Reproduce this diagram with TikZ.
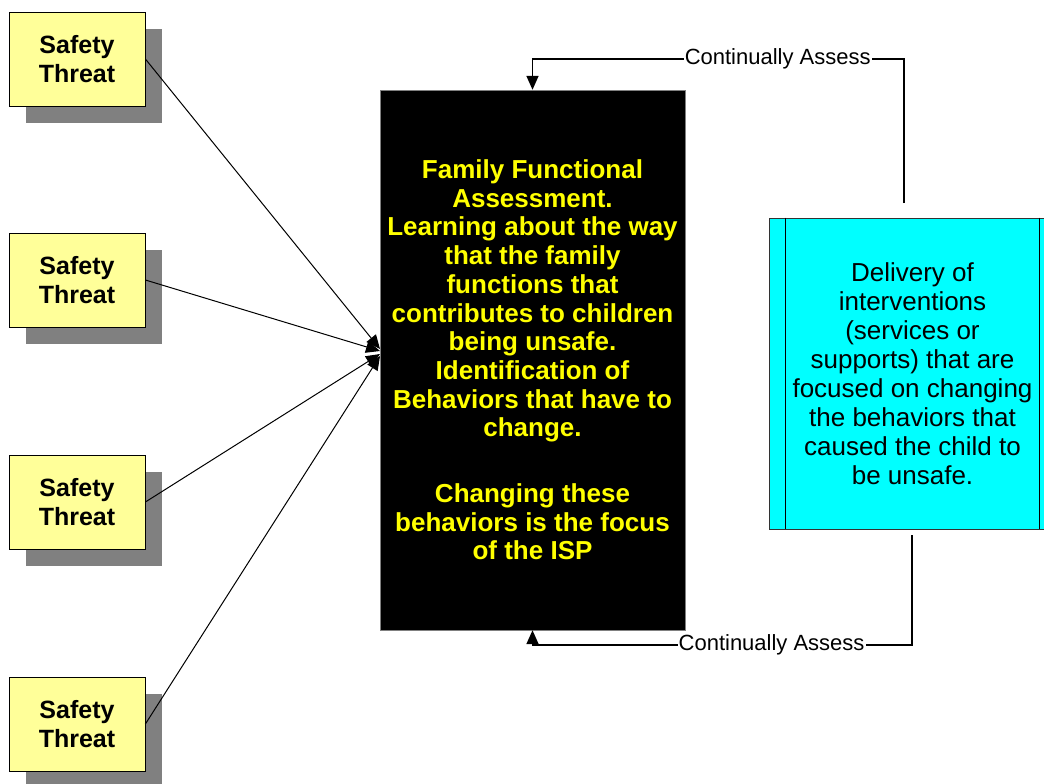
\documentclass[tikz,border=0pt]{standalone}
\usepackage{fontspec}
\setmainfont{Liberation Sans}
\usetikzlibrary{arrows.meta,shadows}
\definecolor{threatyellow}{HTML}{FFFF99}
\definecolor{shadowgray}{HTML}{808080}
\definecolor{textyellow}{HTML}{FFFF00}
\definecolor{boxcyan}{HTML}{00FFFF}
\begin{document}
\begin{tikzpicture}[
			x=1pt, y=-1pt,
			threat/.style = {draw, line width=0.8pt, fill=threatyellow, minimum width=136pt, minimum height=94pt,
				font=\fontsize{25}{29}\selectfont\bfseries, align=center,
				drop shadow={shadow xshift=17pt, shadow yshift=-17pt, fill=shadowgray, opacity=1}},
			assess/.style = {draw=gray, fill=black, text=textyellow, minimum width=305pt, minimum height=540pt,
				font=\fontsize{26}{28.7}\selectfont\bfseries, align=center},
			delivery/.style = {draw=black!80, line width=0.8pt, fill=boxcyan, minimum width=287pt, minimum height=311pt,
				font=\fontsize{26}{29}\selectfont, align=center},
			feed/.style = {fill=white, inner sep=1pt, font=\fontsize{22}{26}\selectfont},
			link/.style = {draw, line width=1pt, -{Triangle[length=14pt,width=12pt]}},
			loop/.style = {link, line width=1.6pt},
			]
			\useasboundingbox (0,0) rectangle (1044,784);
			% safety threats
			\foreach \n/\y in {1/59, 2/280, 3/502, 4/724}
				\node[threat] (t\n) at (77,\y) {Safety\\Threat};
			% assessment box
			\node[assess] (fam) at (532.5,360) {Family Functional\\Assessment.\\Learning about the way\\that the family\\functions that\\contributes to children\\being unsafe.\\Identification of\\Behaviors that have to\\change.\\[37pt]Changing these\\behaviors is the focus\\of the ISP};
			% interventions
			\node[delivery] (del) at (912.5,373.5) {Delivery of\\interventions\\(services or\\supports) that are\\focused on changing\\the behaviors that\\caused the child to\\be unsafe.};
			\draw[line width=0.8pt] (del.north west) ++(17,0) -- ++(0,311);
			\draw[line width=0.8pt] (del.north east) ++(-17,0) -- ++(0,311);
			\foreach \n/\y in {1/349, 2/351, 3/354, 4/356}
				\draw[link] (t\n.east) -- (380,\y);
			% feedback loops
			\coordinate (up) at (904,203);
			\coordinate (down) at (912,535);
			\draw[loop] (up) -- (904,59) -- node[feed, pos=0.34] {Continually Assess} (532.5,59) -- (fam.north);
			\draw[loop] (down) -- (912,645) -- node[feed, pos=0.37] {Continually Assess} (532.5,645) -- (fam.south);
		\end{tikzpicture}
\end{document}
